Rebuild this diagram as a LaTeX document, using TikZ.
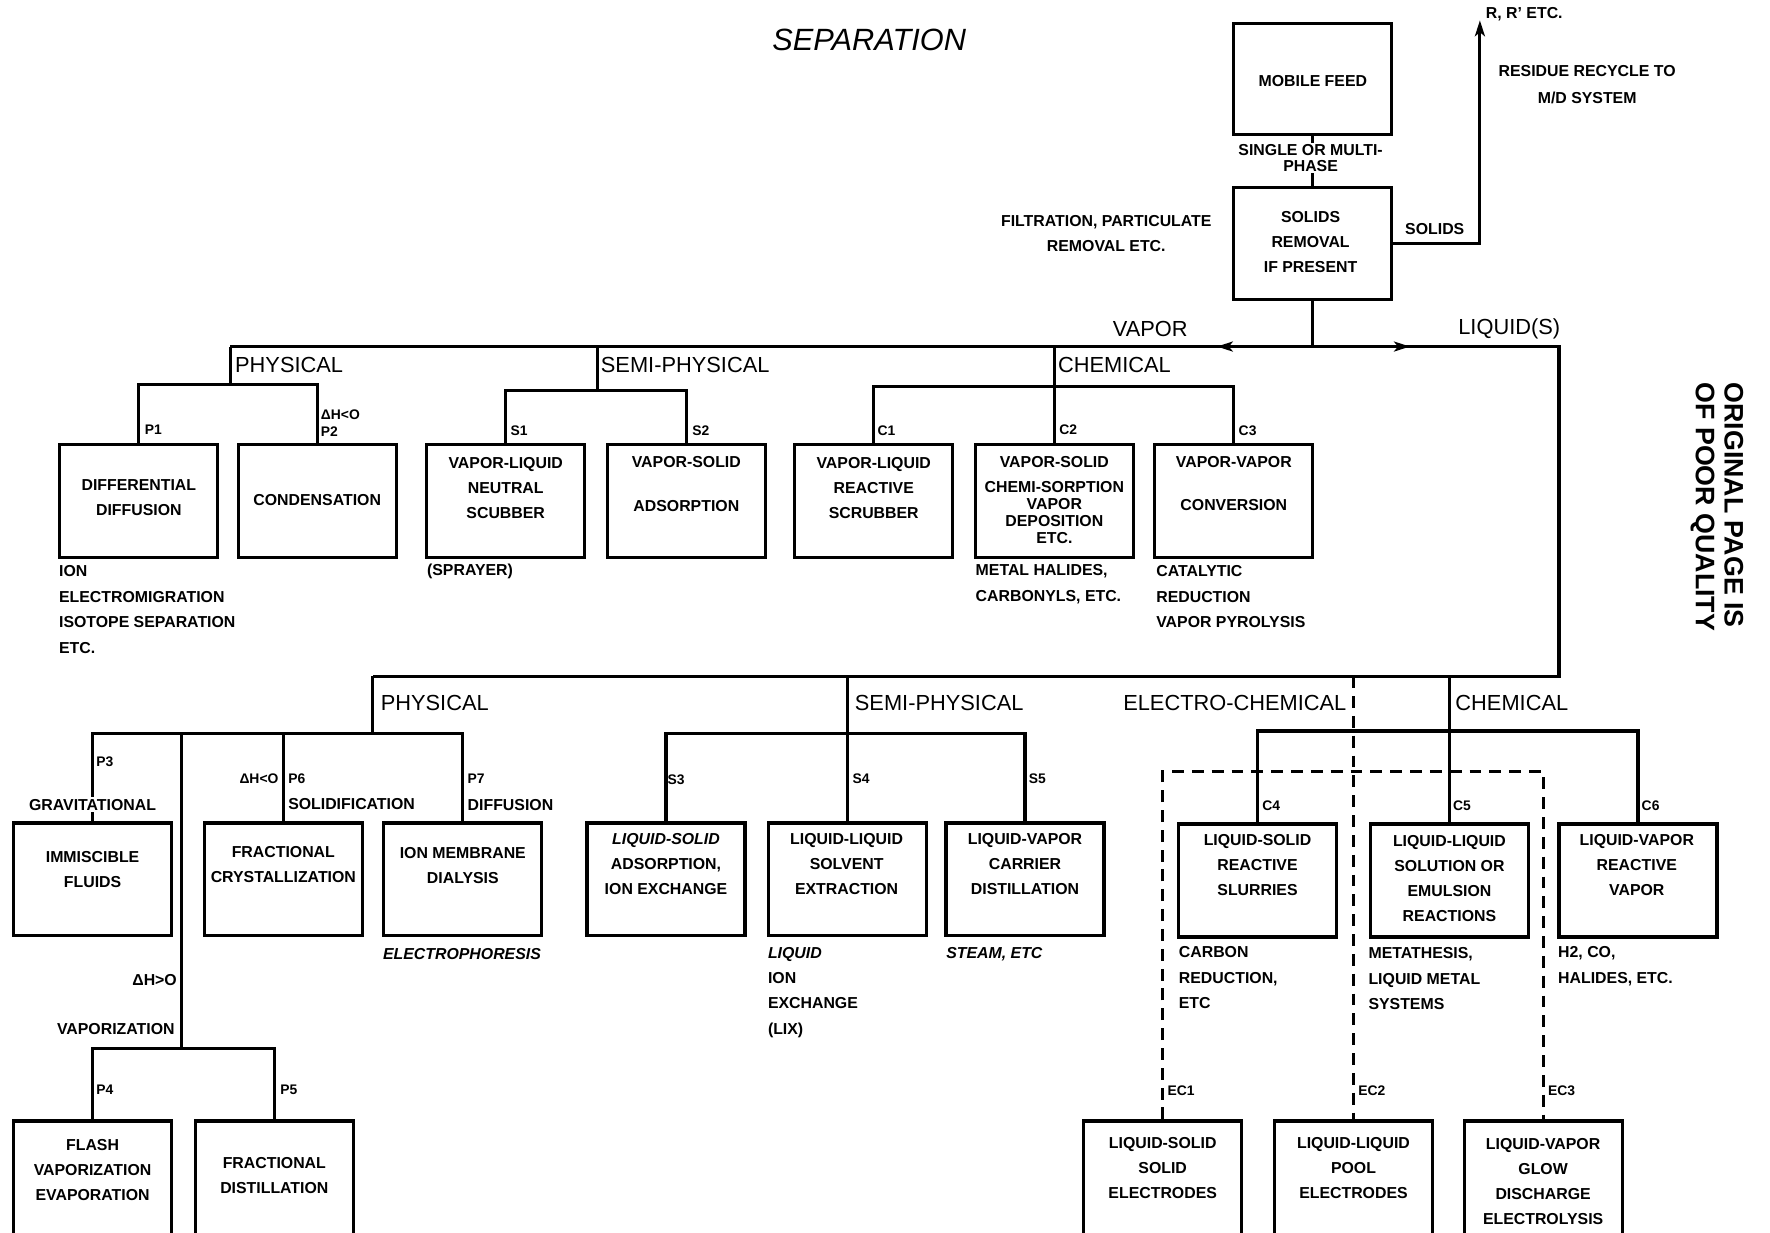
\documentclass[tikz,border=0pt]{standalone}
\usepackage{fontspec}
\setmainfont{Liberation Sans}
\usetikzlibrary{arrows.meta, positioning, calc}

\begin{document}
\begin{tikzpicture}[x=0.02cm, y=-0.02cm,
        conn/.style={line width=1.6pt},
        dashconn/.style={line width=1.6pt, dash pattern=on 6pt off 4pt},
        flow/.style={-{Stealth[length=8pt, width=5pt, inset=2pt]}},
        box/.style={draw, line width=1.6pt, minimum width=2.8cm, minimum height=2cm, inner sep=0pt},
        lowbox/.style={box, minimum height=2.2cm},
        txt/.style={font=\fontsize{8}{12.6}\selectfont\bfseries, align=center, inner sep=0pt},
        note/.style={font=\fontsize{8}{12.8}\selectfont\bfseries, align=left, inner sep=0pt, anchor=west},
        tag/.style={font=\fontsize{7}{8}\selectfont\bfseries, inner sep=0pt, anchor=west},
        cat/.style={font=\fontsize{11}{13}\selectfont, inner sep=0pt, anchor=west}
    ]
        \clip (0,0) rectangle (1568,1092);

        % Title
        \node[font=\fontsize{15.5}{18}\selectfont\itshape] (title) at (770,35) {SEPARATION};

        % Feed and solids removal
        \node[box, minimum height=1.98cm] (feed) at (1163,70) {};
        \node[box, minimum height=1.98cm] (solids) at (1163,215.5) {};
        \node[txt] at (1163,72) {MOBILE FEED};
        \node[txt] at (1161,214.5) {SOLIDS\\REMOVAL\\IF PRESENT};
        \node[txt] (filt) at (980,207) {FILTRATION, PARTICULATE\\REMOVAL ETC.};

        % Bus points
        \coordinate (split) at (1163,307);
        \coordinate (vtip) at (1078,307);
        \coordinate (ltip) at (1249,307);
        \coordinate (rtop) at (1311,18);
        \coordinate (vphys) at (204,307);
        \coordinate (vsemi) at (529,307);
        \coordinate (vchem) at (934,307);
        \coordinate (lcorner) at (1381,307);
        \coordinate (lbus) at (1381,599);
        \coordinate (lphys) at (330,599);
        \coordinate (lsemi) at (751,599);
        \coordinate (lelec) at (1199,599);
        \coordinate (lchem) at (1284,599);
        \coordinate (lvap) at (161,651);
        \coordinate (lvapb) at (161,930);

        \draw[conn] (feed) -- (solids);
        \draw[conn, flow] (solids.east) -| (rtop);
        \draw[conn] (solids) -- (split);
        \draw[conn] (vphys) -- (lcorner) -- (lbus) -- (lphys);
        \draw[conn, flow] (split) -- (vtip);
        \draw[conn, flow] (split) -- (ltip);

        \node[txt, fill=white, inner sep=1pt] at (1161,140) {SINGLE OR MULTI-\\[-5pt]PHASE};
        \node[txt] at (1271,203) {SOLIDS};
        \node[tag, font=\fontsize{8}{9}\selectfont\bfseries] at (1316,13) {R, R' ETC.};
        \node[txt] at (1406,75) {RESIDUE RECYCLE TO\\[1pt]M/D SYSTEM};
        \node[cat, anchor=center] at (1019,291) {VAPOR};
        \node[cat, anchor=center] at (1337,291) {LIQUID(S)};

        % Vapor boxes
        \node[box] (pdiff) at (123,444) {};
        \node[box] (pcond) at (281,444) {};
        \node[box] (sneut) at (448,444) {};
        \node[box] (sads) at (608,444) {};
        \node[box] (crea) at (774,444) {};
        \node[box] (cchem) at (934,444) {};
        \node[box] (cconv) at (1093,444) {};

        \draw[conn] (vphys) -- ++(0,35);
        \draw[conn] (pdiff.north) -- ++(0,-52) -| (pcond.north);
        \draw[conn] (vsemi) -- ++(0,40);
        \draw[conn] (sneut.north) -- ++(0,-47) -| (sads.north);
        \draw[conn] (vchem) -- (cchem.north);
        \draw[conn] (crea.north) -- ++(0,-50) -| (cconv.north);

        \node[cat] at (208,323) {PHYSICAL};
        \node[cat] at (532,323) {SEMI-PHYSICAL};
        \node[cat] at (937,323) {CHEMICAL};

        \node[tag] at (128,381) {P1};
        \node[tag] at (284,367) {ΔH<O};
        \node[tag] at (284,382) {P2};
        \node[tag] at (452,382) {S1};
        \node[tag] at (613,382) {S2};
        \node[tag] at (777,382) {C1};
        \node[tag] at (938,381) {C2};
        \node[tag] at (1097,382) {C3};

        \node[txt] at (123,441) {DIFFERENTIAL\\DIFFUSION};
        \node[txt] at (281,443) {CONDENSATION};
        \node[txt] at (448,432) {VAPOR-LIQUID\\NEUTRAL\\SCUBBER};
        \node[txt] at (608,428.5) {VAPOR-SOLID\\[9.5pt]ADSORPTION};
        \node[txt] at (774,432) {VAPOR-LIQUID\\REACTIVE\\SCRUBBER};
        \node[txt] at (934,443) {VAPOR-SOLID\\CHEMI-SORPTION\\[-4pt]VAPOR\\[-4pt]DEPOSITION\\[-4pt]ETC.};
        \node[txt] at (1093,428) {VAPOR-VAPOR\\[9pt]CONVERSION};

        \node[note] at (52,540) {ION\\ELECTROMIGRATION\\ISOTOPE SEPARATION\\ETC.};
        \node[note] at (378,506) {(SPRAYER)};
        \node[note] at (864,517.5) {METAL HALIDES,\\CARBONYLS, ETC.};
        \node[note] at (1024,528.5) {CATALYTIC\\REDUCTION\\VAPOR PYROLYSIS};

        % Liquid boxes
        \node[box] (limm) at (82,779) {};
        \node[box] (lcryst) at (251,779) {};
        \node[box] (ldial) at (410,779) {};
        \node[lowbox] (pflash) at (82,1048) {};
        \node[lowbox] (pfrac) at (243,1048) {};
        \node[box] (sls) at (590,779) {};
        \node[box] (sll) at (751,779) {};
        \node[box] (svap) at (908,779) {};
        \node[box] (cls) at (1114,780) {};
        \node[box] (cll) at (1284,780) {};
        \node[box] (clv) at (1451,780) {};
        \node[lowbox] (ec1) at (1030,1048) {};
        \node[lowbox] (ec2) at (1199,1048) {};
        \node[lowbox] (ec3) at (1367,1048) {};

        \draw[conn] (lphys) -- ++(0,52);
        \draw[conn] (limm.north) -- ++(0,-78) -| (ldial.north);
        \draw[conn] (lcryst.north) -- ++(0,-78);
        \draw[conn] (lvap) -- (lvapb);
        \draw[conn] (pflash.north) -- ++(0,-63) -| (pfrac.north);
        \draw[conn] (lsemi) -- (sll.north);
        \draw[conn] (sls.north) -- ++(0,-78) -| (svap.north);
        \draw[conn] (lchem) -- (cll.north);
        \draw[conn] (cls.north) -- ++(0,-81) -| (clv.north);
        \draw[dashconn] (lelec) -- (ec2.north);
        \draw[dashconn] (ec1.north) -- ++(0,-308) -| (ec3.north);

        \node[cat] at (337,623) {PHYSICAL};
        \node[cat] at (757,623) {SEMI-PHYSICAL};
        \node[cat, anchor=east] at (1193,623) {ELECTRO-CHEMICAL};
        \node[cat] at (1289,623) {CHEMICAL};

        \node[tag] at (85,675) {P3};
        \node[txt, fill=white, inner sep=1pt] at (82,713) {GRAVITATIONAL};
        \node[tag, anchor=east] at (247,690) {ΔH<O};
        \node[tag] at (255,690) {P6};
        \node[note] at (255,712) {SOLIDIFICATION};
        \node[tag] at (414,690) {P7};
        \node[note] at (414,713) {DIFFUSION};
        \node[note, anchor=east] at (157,868) {ΔH>O};
        \node[note, anchor=east] at (155,912) {VAPORIZATION};
        \node[tag] at (85,965) {P4};
        \node[tag] at (248,965) {P5};
        \node[tag] at (591,691) {S3};
        \node[tag] at (755,690) {S4};
        \node[tag] at (911,690) {S5};
        \node[tag] at (1118,714) {C4};
        \node[tag] at (1287,714) {C5};
        \node[tag] at (1454,714) {C6};
        \node[tag] at (1034,966) {EC1};
        \node[tag] at (1203,966) {EC2};
        \node[tag] at (1371,966) {EC3};

        \node[txt] at (82,770) {IMMISCIBLE\\FLUIDS};
        \node[txt] at (251,766) {FRACTIONAL\\CRYSTALLIZATION};
        \node[txt] at (410,766.5) {ION MEMBRANE\\DIALYSIS};
        \node[txt] at (82,1036.5) {FLASH\\VAPORIZATION\\EVAPORATION};
        \node[txt] at (243,1041.5) {FRACTIONAL\\DISTILLATION};
        \node[txt] at (590,765) {\textit{LIQUID-SOLID}\\ADSORPTION,\\ION EXCHANGE};
        \node[txt] at (750,765) {LIQUID-LIQUID\\SOLVENT\\EXTRACTION};
        \node[txt] at (908,765) {LIQUID-VAPOR\\CARRIER\\DISTILLATION};
        \node[txt] at (1114,766) {LIQUID-SOLID\\REACTIVE\\SLURRIES};
        \node[txt] at (1284,778.5) {LIQUID-LIQUID\\SOLUTION OR\\EMULSION\\REACTIONS};
        \node[txt] at (1450,766) {LIQUID-VAPOR\\REACTIVE\\VAPOR};
        \node[txt] at (1030,1035) {LIQUID-SOLID\\SOLID\\ELECTRODES};
        \node[txt] at (1199,1035) {LIQUID-LIQUID\\POOL\\ELECTRODES};
        \node[txt] at (1367,1046.5) {LIQUID-VAPOR\\GLOW\\DISCHARGE\\ELECTROLYSIS};

        \node[note] at (339,845) {\itshape ELECTROPHORESIS};
        \node[note] at (680,879) {\textit{LIQUID}\\ION\\EXCHANGE\\(LIX)};
        \node[note] at (838,845) {\itshape STEAM, ETC};
        \node[note] at (1044,866) {CARBON\\REDUCTION,\\ETC};
        \node[note] at (1212,867) {METATHESIS,\\LIQUID METAL\\SYSTEMS};
        \node[note] at (1380,856) {H2, CO,\\HALIDES, ETC.};

        % Margin stamp
        \node[font=\fontsize{13.5}{14.5}\selectfont\bfseries, align=left, rotate=-90, inner sep=0pt] (stamp) at (1521,449) {ORIGINAL PAGE IS\\OF POOR QUALITY};
    \end{tikzpicture}
\end{document}
